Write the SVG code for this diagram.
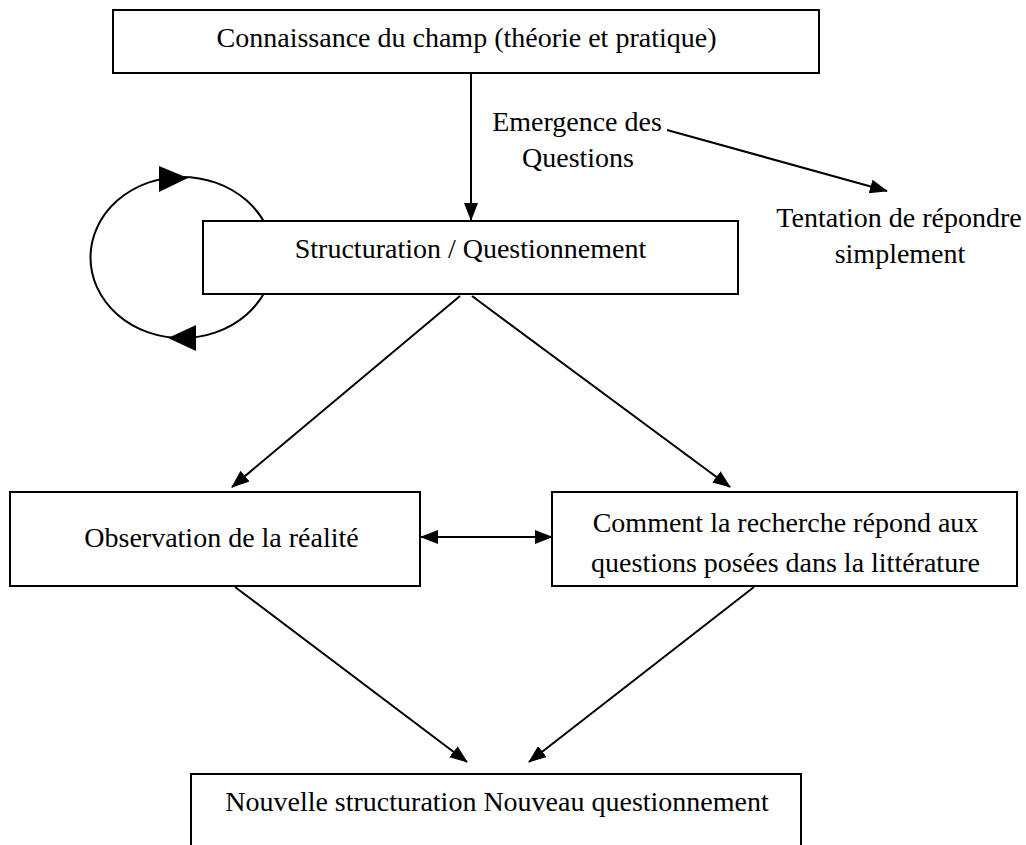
<svg xmlns="http://www.w3.org/2000/svg" width="1026" height="845" viewBox="0 0 1026 845">
  <style>
    .box { fill: #ffffff; stroke: #000000; stroke-width: 2; }
    .lbl { font-family: "Liberation Serif", "Times New Roman", serif; font-size: 28px; fill: #000000; text-anchor: middle; }
    .edge { fill: none; stroke: #000000; stroke-width: 2; }
    .head { fill: #000000; stroke: none; }
  </style>
  <defs>
    <marker id="arrow" markerUnits="userSpaceOnUse" markerWidth="18" markerHeight="14" refX="17" refY="7" orient="auto">
      <path d="M0,0 L18,7 L0,14 z" fill="#000000"/>
    </marker>
    <marker id="arrowStart" markerUnits="userSpaceOnUse" markerWidth="18" markerHeight="14" refX="1" refY="7" orient="auto">
      <path d="M18,0 L0,7 L18,14 z" fill="#000000"/>
    </marker>
  </defs>

  <!-- feedback loop on the left of the structuring box (drawn first so the box hides its right part) -->
  <g id="loop">
    <ellipse class="edge" cx="182" cy="257.5" rx="91.5" ry="80.5"/>
    <polygon class="head" points="159,166 159,192 188,178"/>
    <polygon class="head" points="196,325 196,351 168,338"/>
  </g>

  <g id="connectors">
    <line class="edge" x1="471" y1="73" x2="471" y2="220" marker-end="url(#arrow)"/>
    <line class="edge" x1="667" y1="130" x2="887" y2="191" marker-end="url(#arrow)"/>
    <line class="edge" x1="460" y1="296" x2="232" y2="487" marker-end="url(#arrow)"/>
    <line class="edge" x1="472" y1="296" x2="730" y2="487" marker-end="url(#arrow)"/>
    <line class="edge" x1="421" y1="537" x2="552" y2="537" marker-start="url(#arrowStart)" marker-end="url(#arrow)"/>
    <line class="edge" x1="235" y1="587" x2="467" y2="762" marker-end="url(#arrow)"/>
    <line class="edge" x1="754" y1="587" x2="529" y2="762" marker-end="url(#arrow)"/>
  </g>

  <g id="connaissance">
    <rect class="box" x="113" y="10" width="706" height="63"/>
    <text class="lbl" x="466.5" y="47">Connaissance du champ (théorie et pratique)</text>
  </g>

  <g id="emergence">
    <text class="lbl" x="577" y="131">Emergence des</text>
    <text class="lbl" x="578" y="167">Questions</text>
  </g>

  <g id="tentation">
    <text class="lbl" x="899" y="227">Tentation de répondre</text>
    <text class="lbl" x="900" y="263">simplement</text>
  </g>

  <g id="structuration">
    <rect class="box" x="203" y="221" width="535" height="73"/>
    <text class="lbl" x="470.5" y="258">Structuration / Questionnement</text>
  </g>

  <g id="observation">
    <rect class="box" x="10" y="492" width="410" height="94"/>
    <text class="lbl" x="221.5" y="547">Observation de la réalité</text>
  </g>

  <g id="litterature">
    <rect class="box" x="552" y="492" width="465" height="94"/>
    <text class="lbl" x="785.5" y="532">Comment la recherche répond aux</text>
    <text class="lbl" x="785.5" y="572">questions posées dans la littérature</text>
  </g>

  <g id="nouvelle">
    <rect class="box" x="191" y="774" width="610" height="100"/>
    <text class="lbl" x="497" y="811">Nouvelle structuration Nouveau questionnement</text>
  </g>
</svg>
